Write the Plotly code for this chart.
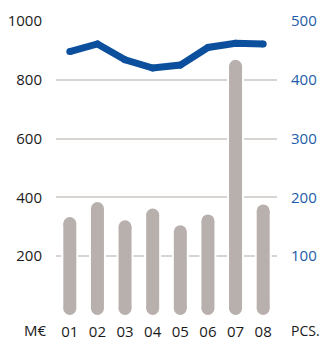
import plotly.graph_objects as go

categories = ["01", "02", "03", "04", "05", "06", "07", "08"]
bar_values = [333, 384, 322, 362, 305, 342, 868, 376]      # M€ (left axis)
line_values = [448, 461, 434, 420, 425, 455, 462, 461]      # pcs. (right axis)
left_ticks = [200, 400, 600, 800, 1000]
right_ticks = [100, 200, 300, 400, 500]

BAR_COLOR = "#b8b0ad"
LINE_COLOR = "#0b4f9d"
RIGHT_TXT = "#1b5ca8"
TXT = "#1a1a1a"
GRID = "#d8d4d1"
FONT = "Open Sans"

ML, MR, MT, MB = 56, 46, 21, 28
W, H = 323, 343
pw = W - ML - MR
ph = H - MT - MB
Y_MAX = 1000

BAR_PX = 13          # bar thickness in px
HALO_PX = 17         # white halo thickness in px (breaks gridlines)
px_per_unit = ph / Y_MAX
r = (BAR_PX / 2) / px_per_unit   # cap radius in data units


def capsule_xy(values, radius):
    xs, ys = [], []
    for c, v in zip(categories, values):
        xs += [c, c, None]
        ys += [radius, v - radius, None]
    return xs, ys


fig = go.Figure()

# white halo behind bars
hx, hy = capsule_xy(bar_values, r)
fig.add_trace(go.Scatter(
    x=hx, y=hy, mode="lines+markers", connectgaps=False,
    line=dict(color="white", width=HALO_PX),
    marker=dict(color="white", size=HALO_PX, line=dict(width=0)),
    yaxis="y", hoverinfo="skip", showlegend=False))

# the bars, drawn as round-capped capsules
bx, by = capsule_xy(bar_values, r)
fig.add_trace(go.Scatter(
    x=bx, y=by, mode="lines+markers", connectgaps=False,
    line=dict(color=BAR_COLOR, width=BAR_PX),
    marker=dict(color=BAR_COLOR, size=BAR_PX, line=dict(width=0)),
    yaxis="y", hoverinfo="skip", showlegend=False))

fig.add_trace(go.Scatter(
    x=categories, y=line_values, mode="lines+markers",
    line=dict(color=LINE_COLOR, width=7),
    marker=dict(color=LINE_COLOR, size=7, line=dict(width=0)),
    yaxis="y2", showlegend=False))

fig.update_layout(
    width=W, height=H,
    margin=dict(l=ML, r=MR, t=MT, b=MB, pad=0, autoexpand=False),
    paper_bgcolor="white", plot_bgcolor="white",
    font=dict(family=FONT, size=15, color=TXT),
    xaxis=dict(type="category", categoryarray=categories, range=[-0.5, 7.5],
               showgrid=False, zeroline=False, showline=False, automargin=False,
               ticks="", ticklabelstandoff=6, tickfont=dict(size=15, color=TXT),
               fixedrange=True),
    yaxis=dict(range=[0, Y_MAX], tickvals=left_ticks, showgrid=True, automargin=False,
               gridcolor=GRID, gridwidth=2, zeroline=False, showline=False,
               ticks="", ticklabelstandoff=13, tickfont=dict(size=15, color=TXT)),
    yaxis2=dict(range=[0, Y_MAX / 2], tickvals=right_ticks, overlaying="y", side="right",
                showgrid=False, zeroline=False, showline=False, ticks="",
                automargin=False,
                ticklabelstandoff=13, tickfont=dict(size=15, color=RIGHT_TXT)),
    annotations=[
        dict(text="M€", x=(35 - ML) / pw, y=(H - MB - 330) / ph, xref="paper",
             yref="paper", xanchor="center", yanchor="middle", showarrow=False,
             font=dict(size=15, color=TXT)),
        dict(text="PCS.", x=(305 - ML) / pw, y=(H - MB - 330) / ph, xref="paper",
             yref="paper", xanchor="center", yanchor="middle", showarrow=False,
             font=dict(size=14, color=TXT)),
    ],
)

fig.write_html("out.html")
